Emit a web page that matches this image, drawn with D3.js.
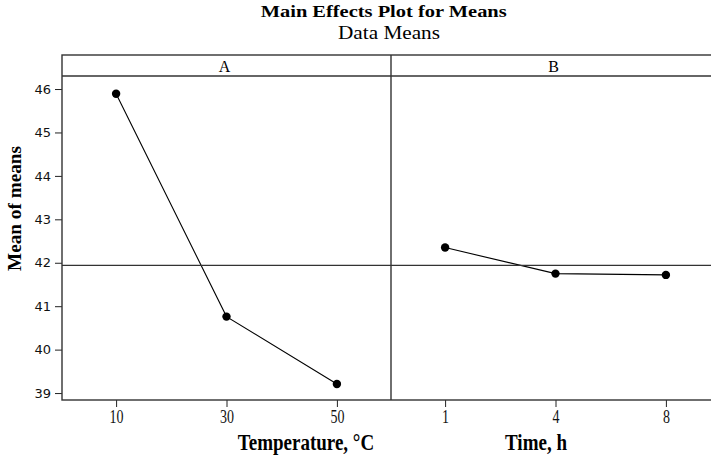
<!DOCTYPE html>
<html>
<head>
<meta charset="utf-8">
<script src="https://cdn.jsdelivr.net/npm/d3@7"></script>
<style>
  body { margin: 0; background: #fff; overflow: hidden; }
  svg { display: block; }
  .serif { font-family: "Liberation Serif", "Times New Roman", serif; }
</style>
</head>
<body>
<script>
// data
var levelsA = ['10', '30', '50'],
    meansA = [45.89, 40.76, 39.21],
    levelsB = ['1', '4', '8'],
    meansB = [42.35, 41.75, 41.72],
    grandMean = 41.94,
    yTicks = [39, 40, 41, 42, 43, 44, 45, 46],
    panelNames = ['A', 'B'],
    axisTitles = ['Temperature, \u00B0C', 'Time, h'];

// note: "top" is taken by window.top, so plotTop
var w = 711, h = 459,
    plotLeft = 62, plotTop = 55, stripH = 21, plotBottom = 400,
    panelW = 329;

var svg = d3.select('body').append('svg')
  .attr('width', w)
  .attr('height', h);

var y = d3.scaleLinear()
  .domain([38.84, 46.30])
  .range([plotBottom, plotTop + stripH]);

var panels = [
  {name: panelNames[0], levels: levelsA, means: meansA, title: axisTitles[0], titleX: 306},
  {name: panelNames[1], levels: levelsB, means: meansB, title: axisTitles[1], titleX: 536}
];

//titles
svg.append('text')
  .attr('class', 'serif')
  .attr('x', 383.7).attr('y', 16.7)
  .attr('text-anchor', 'middle')
  .attr('font-size', 16).attr('font-weight', 'bold')
  .attr('textLength', 246).attr('lengthAdjust', 'spacingAndGlyphs')
  .text('Main Effects Plot for Means');

svg.append('text')
  .attr('class', 'serif')
  .attr('x', 389).attr('y', 39)
  .attr('text-anchor', 'middle')
  .attr('font-size', 18)
  .attr('textLength', 102).attr('lengthAdjust', 'spacingAndGlyphs')
  .text('Data Means');

// y axis
var yAxis = svg.append('g')
  .attr('transform', 'translate(' + plotLeft + ',0)')
  .call(d3.axisLeft(y).tickValues(yTicks).tickSize(7).tickPadding(4));
yAxis.select('.domain').remove();
yAxis.selectAll('line').attr('stroke', '#222');
yAxis.selectAll('text')
  .attr('font-family', '"DejaVu Sans", sans-serif')
  .attr('font-size', 13)
  .attr('fill', '#111');

svg.append('text')
  .attr('class', 'serif')
  .attr('transform', 'translate(21,208.5) rotate(-90)')
  .attr('text-anchor', 'middle')
  .attr('font-size', 18).attr('font-weight', 'bold')
  .attr('textLength', 125).attr('lengthAdjust', 'spacingAndGlyphs')
  .text('Mean of means');

// panels
panels.forEach(function(p, i) {
  var x0 = plotLeft + i * panelW;
  var x = d3.scalePoint()
    .domain(p.levels)
    .range([x0, x0 + panelW])
    .padding(0.49);

  var g = svg.append('g').classed('panel', true);

  // strip label
  g.append('text')
    .attr('class', 'serif')
    .attr('x', x0 + panelW / 2 - 2)
    .attr('y', 72)
    .attr('text-anchor', 'middle')
    .attr('font-size', 16)
    .text(p.name);

  // x axis
  var xAxis = g.append('g')
    .attr('transform', 'translate(0,' + plotBottom + ')')
    .call(d3.axisBottom(x).tickSize(7));
  xAxis.select('.domain').remove();
  xAxis.selectAll('line').attr('stroke', '#222');
  xAxis.selectAll('text')
    .attr('class', 'serif')
    .attr('font-size', 14)
    .attr('fill', '#111')
    .attr('y', 0).attr('dy', 0)
    .attr('transform', 'translate(0,23) scale(1,1.3)');

  g.append('text')
    .attr('class', 'serif')
    .attr('transform', 'translate(' + p.titleX + ',450) scale(1,1.25)')
    .attr('text-anchor', 'middle')
    .attr('font-size', 19).attr('font-weight', 'bold')
    .text(p.title);

  // means line + points
  var pts = p.levels.map(function(l, j) { return [l, p.means[j]]; });
  var line = d3.line()
    .x(function(d) { return x(d[0]); })
    .y(function(d) { return y(d[1]); });

  g.append('path')
    .datum(pts)
    .attr('d', line)
    .attr('fill', 'none')
    .attr('stroke', '#000')
    .attr('stroke-width', 1.1);

  g.selectAll('circle')
    .data(pts)
    .enter()
    .append('circle')
    .attr('cx', function(d) { return x(d[0]); })
    .attr('cy', function(d) { return y(d[1]); })
    .attr('r', 4.2)
    .attr('fill', '#000');
});

// reference line at the grand mean
svg.append('line')
  .attr('x1', plotLeft).attr('x2', plotLeft + 2 * panelW)
  .attr('y1', y(grandMean)).attr('y2', y(grandMean))
  .attr('stroke', '#333').attr('stroke-width', 1.2);

// frame, strip and divider
var frame = svg.append('g')
  .attr('fill', 'none')
  .attr('stroke', '#333')
  .attr('stroke-width', 1.4);
frame.append('rect')
  .attr('x', plotLeft).attr('y', plotTop)
  .attr('width', 2 * panelW).attr('height', plotBottom - plotTop);
frame.append('line')
  .attr('x1', plotLeft).attr('x2', plotLeft + 2 * panelW)
  .attr('y1', plotTop + stripH).attr('y2', plotTop + stripH);
frame.append('line')
  .attr('x1', plotLeft + panelW).attr('x2', plotLeft + panelW)
  .attr('y1', plotTop).attr('y2', plotBottom);
</script>
</body>
</html>
